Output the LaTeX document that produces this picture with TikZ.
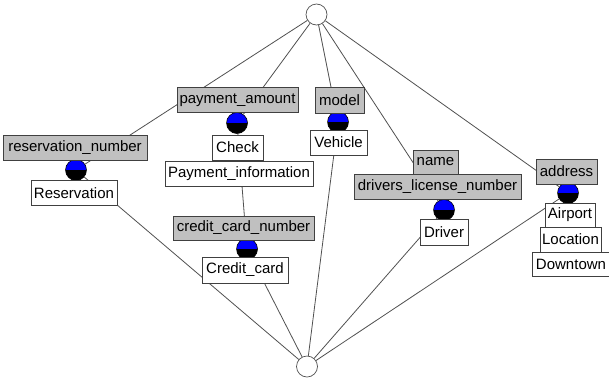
\documentclass[tikz,border=0pt]{standalone}
\usepackage{fontspec}
\setmainfont{Liberation Sans}
\definecolor{attrgray}{RGB}{192,192,192}
\definecolor{boxline}{RGB}{64,64,64}
\definecolor{edgecol}{RGB}{80,80,80}
\definecolor{conceptblue}{RGB}{0,0,255}
\begin{document}
\begin{tikzpicture}[x=1pt,y=-1pt,
  lbl/.style={draw=boxline, line width=0.8pt, inner sep=0pt, minimum height=25pt,
    font=\fontsize{15}{17}\selectfont, text=black},
  attr/.style={lbl, fill=attrgray},
  obj/.style={lbl, fill=white},
  concept/.style={circle, draw=black, line width=0.6pt, minimum size=21pt, inner sep=0pt,
    path picture={
      \fill[conceptblue] (path picture bounding box.north west) rectangle (path picture bounding box.east);
      \fill[black] (path picture bounding box.west) rectangle (path picture bounding box.south east);}},
  endpt/.style={circle, draw=edgecol, fill=white, line width=0.7pt, minimum size=21pt, inner sep=0pt},
  edge/.style={draw=edgecol, line width=0.8pt}]
\useasboundingbox (0,0) rectangle (609,378);
% concept circles
\node[endpt] (top) at (316.5,14.5) {};
\node[endpt] (bottom) at (307,366.5) {};
\node[concept] (cRes) at (76,170) {};
\node[concept] (cPay) at (237,123) {};
\node[concept] (cModel) at (338,122) {};
\node[concept] (cDrv) at (444,210) {};
\node[concept] (cAddr) at (568,193) {};
\node[concept] (cCC) at (247,249) {};
% edges
\path[edge] (top) -- (cRes);
\path[edge] (top) -- (cPay);
\path[edge] (top) -- (cModel);
\path[edge] (top) -- (cDrv);
\path[edge] (top) -- (cAddr);
\path[edge] (cPay) -- (cCC);
\path[edge] (cRes) -- (bottom);
\path[edge] (cCC) -- (bottom);
\path[edge] (cModel) -- (bottom);
\path[edge] (cDrv) -- (bottom);
\path[edge] (cAddr) -- (bottom);
% labels
\node[attr, minimum width=121pt] (payamt) at (237.5,100) {payment\_amount};
\node[obj, minimum width=51pt] (check) at (237.5,147.5) {Check};
\node[obj, minimum width=148pt] (payinfo) at (239,173.5) {Payment\_information};
\node[attr, minimum width=144pt] (resnum) at (75,147.5) {reservation\_number};
\node[obj, minimum width=86pt] (res) at (74,193) {Reservation};
\node[attr, minimum width=141pt, minimum height=24pt] (ccnum) at (243.5,228) {credit\_card\_number};
\node[obj, minimum width=86pt, minimum height=26pt] (cc) at (245,270) {Credit\_card};
\node[attr, minimum width=49pt, minimum height=26pt] (model) at (339.5,100) {model};
\node[obj, minimum width=57pt] (vehicle) at (338.5,142.5) {Vehicle};
\node[attr, minimum width=45pt, minimum height=24pt] (name) at (435.5,162) {name};
\node[attr, minimum width=167pt] (dln) at (437.5,186.5) {drivers\_license\_number};
\node[obj, minimum width=48pt, minimum height=26pt] (driver) at (444,232) {Driver};
\node[attr, minimum width=61pt] (address) at (566.5,171.5) {address};
\node[obj, minimum width=50pt, minimum height=24pt] (airport) at (570,215) {Airport};
\node[obj, minimum width=61pt] (location) at (570.5,239.5) {Location};
\node[obj, minimum width=78pt, minimum height=24pt] (downtown) at (571,264) {Downtown};
\end{tikzpicture}
\end{document}
